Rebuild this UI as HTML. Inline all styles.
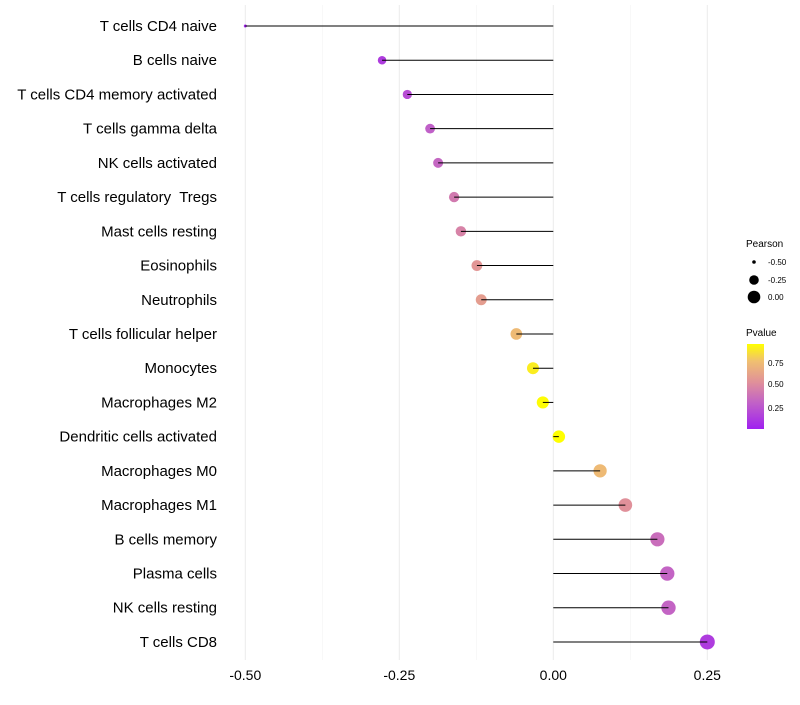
<!DOCTYPE html>
<html><head><meta charset="utf-8"><style>
body{margin:0;background:#fff;font-family:"Liberation Sans",sans-serif;}
svg text{font-family:"Liberation Sans",sans-serif;}
</style></head><body>
<svg id="chart" width="800" height="700" xmlns="http://www.w3.org/2000/svg">
<defs><linearGradient id="pg" x1="0" y1="1" x2="0" y2="0">
<stop offset="0" stop-color="#A020F0"/><stop offset="0.3" stop-color="#C060C8"/><stop offset="0.55" stop-color="#E0909A"/><stop offset="0.8" stop-color="#F0C070"/><stop offset="1" stop-color="#FFFF00"/></linearGradient></defs>
<g id="grid"></g><g id="marks"></g><g id="labels"></g>
<g>
<text x="746" y="247" font-size="10">Pearson</text>
<circle cx="754" cy="262" r="1.8" fill="#000"/><text x="768" y="265" font-size="8">-0.50</text>
<circle cx="754" cy="280" r="4.8" fill="#000"/><text x="768" y="283" font-size="8">-0.25</text>
<circle cx="754" cy="297" r="6.3" fill="#000"/><text x="768" y="300" font-size="8">0.00</text>
</g>
<g>
<text x="746" y="336" font-size="10">Pvalue</text>
<rect x="747" y="344" width="17" height="85" fill="url(#pg)"/>
<text x="768" y="366" font-size="8">0.75</text>
<text x="768" y="387" font-size="8">0.50</text>
<text x="768" y="411" font-size="8">0.25</text>
</g>
</svg>
<script>
const categories=["T cells CD4 naive","B cells naive","T cells CD4 memory activated","T cells gamma delta","NK cells activated","T cells regulatory\u00a0 Tregs","Mast cells resting","Eosinophils","Neutrophils","T cells follicular helper","Monocytes","Macrophages M2","Dendritic cells activated","Macrophages M0","Macrophages M1","B cells memory","Plasma cells","NK cells resting","T cells CD8"];
const pearson=[-0.50,-0.278,-0.237,-0.20,-0.187,-0.161,-0.15,-0.124,-0.117,-0.06,-0.033,-0.017,0.009,0.076,0.117,0.169,0.185,0.187,0.25];
const pvalue=[0.05,0.15,0.22,0.3,0.33,0.42,0.46,0.55,0.58,0.72,0.9,0.95,0.97,0.72,0.52,0.36,0.32,0.32,0.15];
const xTicks=[-0.5,-0.25,0,0.25];
const xTickLabels=["-0.50","-0.25","0.00","0.25"];
const NS="http://www.w3.org/2000/svg";
const xs=v=>553.3+v*616;
const ys=i=>26+i*34.22;
const rs=v=>Math.sqrt(2.25+(v+0.5)/0.75*(56.25-2.25));
function lerp(a,b,t){return a.map((x,k)=>Math.round(x+(b[k]-x)*t));}
const stops=[[0.03,[160,32,240]],[0.3,[192,96,200]],[0.52,[224,144,154]],[0.75,[240,192,112]],[0.96,[255,255,0]]];
function col(p){if(p<=stops[0][0])return "rgb("+stops[0][1]+")";for(let i=1;i<stops.length;i++){if(p<=stops[i][0]){const t=(p-stops[i-1][0])/(stops[i][0]-stops[i-1][0]);return "rgb("+lerp(stops[i-1][1],stops[i][1],t)+")";}}return "rgb(255,255,0)";}
function mk(tag,at,parent){const e=document.createElementNS(NS,tag);for(const k in at)e.setAttribute(k,at[k]);document.getElementById(parent).appendChild(e);return e;}
const minor=[-0.375,-0.125,0.125];
minor.forEach(v=>{const l=mk("line",{x1:xs(v),x2:xs(v),y1:5,y2:660,stroke:"#f4f4f4","stroke-width":0.6},"grid");

});
xTicks.forEach((v,i)=>{const l=mk("line",{x1:xs(v),x2:xs(v),y1:5,y2:660,stroke:"#ebebeb","stroke-width":1},"grid");


const t=mk("text",{x:xs(v),y:680,"font-size":14,"text-anchor":"middle",fill:"#000"},"labels");t.textContent=xTickLabels[i];

});
categories.forEach((c,i)=>{const y=ys(i);
const t=mk("text",{x:217,y:y+5,"font-size":15,"text-anchor":"end",fill:"#000"},"labels");t.textContent=c;


const cc=mk("circle",{cx:xs(pearson[i]),cy:y,r:rs(pearson[i]),fill:col(pvalue[i])},"marks");


const l=mk("line",{x1:xs(0),x2:xs(pearson[i]),y1:y,y2:y,stroke:"#000","stroke-width":1},"marks");

});
</script>
</body></html>
